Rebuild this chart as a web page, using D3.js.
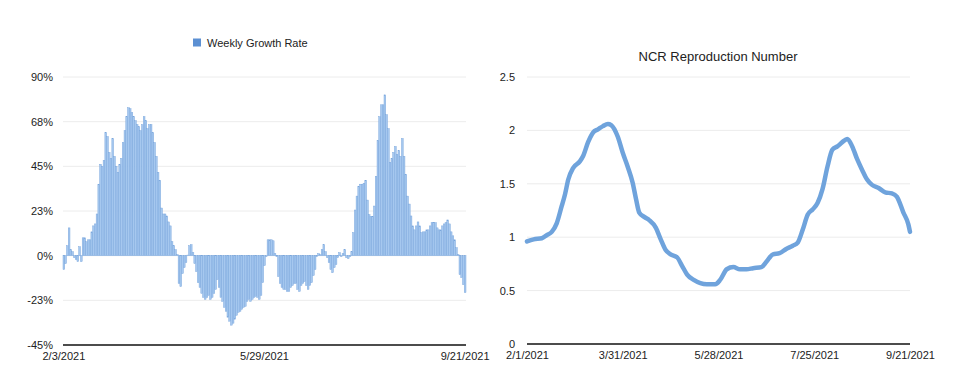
<!DOCTYPE html>
<html>
<head>
<meta charset="utf-8">
<script src="https://cdn.jsdelivr.net/npm/d3@7"></script>
<style>
  html, body { margin: 0; padding: 0; background: #fff; }
  svg { display: block; font-family: "Liberation Sans", Arial, Helvetica, sans-serif; }
  .tick text { fill: #222; font-size: 11px; }
</style>
</head>
<body>
<svg id="chart" width="959" height="378"></svg>
<script>
// ---------------- DATA ----------------
const growthStart = "2021-02-03";
const growthValues = [
  -7, -4, 5, 14, 3, 2, -1, -2, -3, 4.5,
  -3, 9, 9, 7, 8, 8, 12, 15, 16, 21,
  36, 46, 45, 48, 62, 60, 52, 49, 59, 50,
  45, 42, 46, 49, 57, 63, 70, 74.5, 74, 72,
  70, 68, 66, 65, 63, 66, 70, 68, 64, 66,
  66, 62, 57, 50, 42, 38, 24, 21, 21, 20,
  17, 15, 7, 5, 3, 0.5, -14, -15.6, -9, -6,
  -3.5, 0.3, 5, 5.5, 1.5, -4, -8, -13.6, -16, -19,
  -21, -22, -21, -20, -22, -21, -19, -17, -12, -16,
  -21, -23, -26, -28, -31, -33, -35, -34, -32, -30,
  -28.5, -28, -27, -26, -25.5, -23, -22, -23, -22, -21,
  -20.5, -21, -22, -20, -13.6, -5, -0.5, 8, 8, 8,
  7.5, 1, -0.5, -10.5, -14, -16, -17, -17, -18, -18,
  -16, -15, -14, -14, -17, -18, -15, -14, -13, -15,
  -17, -15, -13.6, -10, -7, -0.5, 1, 0.5, 3, 5.5,
  2, -1, -3.5, -7, -8.6, -6, -4.5, -1, 1.5, -0.5,
  1, 3, -1, -1.5, -0.5, 2, 11.6, 23, 30, 35,
  36, 36, 36.5, 38, 28, 20.6, 19.6, 19.6, 25, 40,
  58, 70, 76, 76, 81, 71, 64, 47, 49, 52,
  55, 51, 53, 50, 59, 50, 41, 30, 26, 20,
  15, 13, 15, 17, 15, 11.6, 12, 12, 13, 13,
  15, 16.6, 16.6, 16.6, 14, 13, 13, 15, 16, 16.6,
  18, 16, 12, 10, 8, 4, 0.5, -9.6, -11, -14.6,
  -18.6
];
const growthTickValues = [90, 67.5, 45, 22.5, 0, -22.5, -45];
const growthTickLabels = ["90%", "68%", "45%", "23%", "0%", "-23%", "-45%"];
const growthDateLabels = ["2/3/2021", "5/29/2021", "9/21/2021"];
const growthLabelIndex = [0, 115, 230];

const rDates = [
  "2021-02-01","2021-02-05","2021-02-10","2021-02-13","2021-02-16","2021-02-19","2021-02-22","2021-02-24",
  "2021-02-26","2021-03-01","2021-03-05","2021-03-07","2021-03-10","2021-03-13","2021-03-16","2021-03-19",
  "2021-03-22","2021-03-24","2021-03-28","2021-03-31","2021-04-03","2021-04-06","2021-04-08","2021-04-10",
  "2021-04-13","2021-04-16","2021-04-20","2021-04-23","2021-04-26","2021-04-29","2021-05-03","2021-05-06",
  "2021-05-09","2021-05-13","2021-05-17","2021-05-21","2021-05-26","2021-05-29","2021-06-02","2021-06-06",
  "2021-06-10","2021-06-14","2021-06-18","2021-06-23","2021-06-26","2021-06-30","2021-07-04","2021-07-08",
  "2021-07-12","2021-07-15","2021-07-18","2021-07-21","2021-07-24","2021-07-27","2021-07-30","2021-08-02",
  "2021-08-05","2021-08-08","2021-08-11","2021-08-14","2021-08-17","2021-08-20","2021-08-23","2021-08-26",
  "2021-08-29","2021-09-02","2021-09-06","2021-09-10","2021-09-13","2021-09-17","2021-09-20","2021-09-21"
];
const rValues = [
  0.96, 0.98, 0.99, 1.02, 1.05, 1.13, 1.29, 1.40,
  1.54, 1.65, 1.71, 1.76, 1.89, 1.98, 2.01, 2.04,
  2.06, 2.05, 1.94, 1.79, 1.66, 1.51, 1.36, 1.23,
  1.19, 1.16, 1.09, 0.98, 0.88, 0.84, 0.81, 0.73,
  0.65, 0.60, 0.57, 0.56, 0.56, 0.60, 0.70, 0.72,
  0.70, 0.70, 0.71, 0.72, 0.77, 0.84, 0.85, 0.89,
  0.92, 0.95, 1.07, 1.21, 1.26, 1.32, 1.45, 1.66,
  1.82, 1.85, 1.89, 1.92, 1.85, 1.73, 1.63, 1.54,
  1.49, 1.46, 1.42, 1.41, 1.38, 1.23, 1.12, 1.05
];
const rTickValues = [0, 0.5, 1, 1.5, 2, 2.5];
const rTickLabels = ["0", "0.5", "1", "1.5", "2", "2.5"];
const rDateLabels = ["2/1/2021", "3/31/2021", "5/28/2021", "7/25/2021", "9/21/2021"];
const rDateTicks = ["2021-02-01", "2021-03-31", "2021-05-28", "2021-07-25", "2021-09-21"];
</script>
<script>
const svg = d3.select("#chart");
const parse = d3.timeParse("%Y-%m-%d");

// ---------------- LEFT: Weekly Growth Rate ----------------
(function () {
  const x0 = 63, x1 = 466, yTop = 77, yBot = 345;
  const x = d3.scaleBand().domain(d3.range(growthValues.length)).range([x0, x1]).padding(0);
  const y = d3.scaleLinear().domain([-45, 90]).range([yBot, yTop]);
  const g = svg.append("g");

  g.selectAll("line.grid").data(growthTickValues.filter(v => v !== -45)).enter()
    .append("line").attr("x1", x0).attr("x2", x1)
    .attr("y1", d => y(d)).attr("y2", d => y(d))
    .attr("stroke", "#ececec").attr("stroke-width", 1);

  g.selectAll("rect.bar").data(growthValues).enter().append("rect")
    .attr("x", (d, i) => x(i))
    .attr("width", x.bandwidth())
    .attr("y", d => y(Math.max(0, d)))
    .attr("height", d => Math.abs(y(d) - y(0)))
    .attr("fill", "#a6c8ef")
    .attr("stroke", "#78a5dc")
    .attr("stroke-width", 0.45);

  const ya = g.append("g").attr("transform", `translate(${x0 - 10},0)`)
    .call(d3.axisLeft(y).tickValues(growthTickValues).tickSize(0)
      .tickFormat((d, i) => growthTickLabels[i]));
  ya.select(".domain").remove();
  ya.selectAll("text").attr("x", 0);

  g.append("line").attr("x1", x0).attr("x2", x1).attr("y1", y(-45)).attr("y2", y(-45))
    .attr("stroke", "#111").attr("stroke-width", 1.5);

  const xa = g.append("g").attr("transform", `translate(0,${y(-45)})`)
    .call(d3.axisBottom(x).tickValues(growthLabelIndex).tickSize(0)
      .tickFormat((d, i) => growthDateLabels[i]));
  xa.select(".domain").remove();
  xa.selectAll("text").attr("dy", 0).attr("y", 15);

  g.append("rect").attr("x", 193).attr("y", 38.5).attr("width", 8).attr("height", 8)
    .attr("fill", "#5c90d3");
  g.append("text").attr("x", 207).attr("y", 46.5).attr("font-size", 11).attr("fill", "#222")
    .text("Weekly Growth Rate");
})();

// ---------------- RIGHT: NCR Reproduction Number ----------------
(function () {
  const x0 = 527, x1 = 910, yTop = 77, yBot = 344;
  const x = d3.scaleTime().domain([parse("2021-02-01"), parse("2021-09-21")]).range([x0, x1]);
  const y = d3.scaleLinear().domain([0, 2.5]).range([yBot, yTop]);
  const g = svg.append("g");

  g.selectAll("line.grid").data(rTickValues.filter(v => v !== 0)).enter()
    .append("line").attr("x1", x0).attr("x2", x1)
    .attr("y1", d => y(d)).attr("y2", d => y(d))
    .attr("stroke", "#ececec").attr("stroke-width", 1);

  const ya = g.append("g").attr("transform", `translate(${x0 - 12},0)`)
    .call(d3.axisLeft(y).tickValues(rTickValues).tickSize(0)
      .tickFormat((d, i) => rTickLabels[i]));
  ya.select(".domain").remove();
  ya.selectAll("text").attr("x", 0);

  g.append("line").attr("x1", x0).attr("x2", x1).attr("y1", yBot).attr("y2", yBot)
    .attr("stroke", "#111").attr("stroke-width", 1.5);

  const xa = g.append("g").attr("transform", `translate(0,${yBot})`)
    .call(d3.axisBottom(x).tickValues(rDateTicks.map(parse)).tickSize(0)
      .tickFormat((d, i) => rDateLabels[i]));
  xa.select(".domain").remove();
  xa.selectAll("text").attr("dy", 0).attr("y", 15);

  const pts = rValues.map((v, i) => [parse(rDates[i]), v]);
  const line = d3.line().x(d => x(d[0])).y(d => y(d[1])).curve(d3.curveMonotoneX);
  g.append("path").datum(pts).attr("d", line)
    .attr("fill", "none").attr("stroke", "#6fa3dc").attr("stroke-width", 4.5)
    .attr("stroke-linejoin", "round").attr("stroke-linecap", "round");

  g.append("text").attr("x", 718).attr("y", 61).attr("text-anchor", "middle")
    .attr("font-size", 13).attr("fill", "#222").text("NCR Reproduction Number");
})();
</script>
</body>
</html>
